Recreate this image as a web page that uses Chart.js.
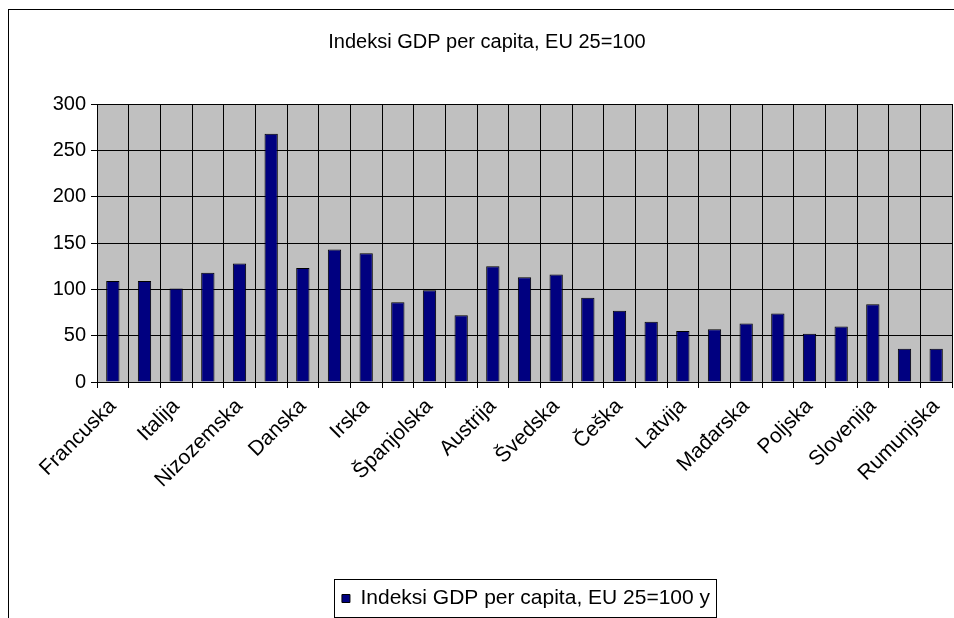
<!DOCTYPE html>
<html>
<head>
<meta charset="utf-8">
<script src="https://cdn.jsdelivr.net/npm/chart.js@4/dist/chart.umd.min.js"></script>
<style>
    html, body { margin: 0; padding: 0; background: #fff; }
    #wrap { width: 954px; height: 618px; }
</style>
</head>
<body>
<div id="wrap"><canvas id="chart" width="954" height="618"></canvas></div>
<script>
// zemlje (svaka druga je prikazana na osi)
const countries = ["Francuska", "Njemačka", "Italija", "Belgija", "Nizozemska", "Luksemburg",
    "Danska", "Velika Britanija", "Irska", "Grčka", "Španjolska", "Portugal", "Austrija",
    "Finska", "Švedska", "Cipar", "Češka", "Estonija", "Latvija", "Litva", "Mađarska",
    "Malta", "Poljska", "Slovačka", "Slovenija", "Bugarska", "Rumunjska"];
const gdpIndex = [109, 109, 101, 118, 128, 268, 123, 143, 139, 86, 99, 72, 125,
    113, 116, 91, 77, 65, 55, 57, 63, 74, 52, 60, 84, 36, 36];
const yTicks = [0, 50, 100, 150, 200, 250, 300];
const seriesName = "Indeksi GDP per capita, EU 25=100 y";
const titleText = "Indeksi GDP per capita, EU 25=100";

const font = "'Liberation Sans', Arial, sans-serif";

// okvir, sivo polje i rub oko legende
const decor = {
    id: "decor",
    afterUpdate(chart) {
        // u originalu su naslov i legenda malo desno od sredine
        const lg = chart.legend;
        lg.left += 50;
        lg.right += 50;
        lg.top += 2;
        lg.bottom += 2;
        lg.legendHitBoxes.forEach(b => { b.left += 50; b.top += 2; });
        const tb = chart.titleBlock;
        tb.left += 11;
        tb.right += 11;
    },
    beforeDraw(chart) {
        const ctx = chart.ctx;
        const a = chart.chartArea;
        ctx.save();
        ctx.fillStyle = "#fff";
        ctx.fillRect(0, 0, chart.width, chart.height);
        ctx.strokeStyle = "#000";
        ctx.lineWidth = 1;
        ctx.strokeRect(8.5, 9.5, 1000, 700);
        ctx.fillStyle = "#c0c0c0";
        ctx.fillRect(a.left, a.top, a.right - a.left, a.bottom - a.top);
        ctx.restore();
    },
    afterDraw(chart) {
        const box = chart.legend.legendHitBoxes[0];
        if (!box) return;
        const ctx = chart.ctx;
        ctx.save();
        ctx.strokeStyle = "#000";
        ctx.lineWidth = 1;
        ctx.strokeRect(Math.round(box.left - 8) + 0.5, Math.round(box.top - 9) + 0.5,
            Math.round(box.width + 14), Math.round(box.height + 17));
        ctx.restore();
    }
};

new Chart(document.getElementById("chart"), {
    type: "bar",
    data: {
        labels: countries,
        datasets: [{
            label: seriesName,
            data: gdpIndex,
            backgroundColor: "#000080",
            borderColor: "#000",
            borderWidth: 1,
            barPercentage: 0.42,
            categoryPercentage: 1
        }]
    },
    options: {
        responsive: false,
        animation: false,
        layout: { padding: { left: 0, right: 2, top: 0, bottom: 1 } },
        plugins: {
            title: {
                display: true,
                text: titleText,
                color: "#000",
                font: { family: font, size: 20, weight: "normal" },
                padding: { top: 30, bottom: 50 }
            },
            legend: {
                position: "bottom",
                labels: {
                    color: "#000",
                    font: { family: font, size: 21 },
                    boxWidth: 8,
                    boxHeight: 8,
                    padding: 10
                }
            },
            tooltip: { enabled: false }
        },
        scales: {
            x: {
                grid: { color: "#000", lineWidth: 1, tickLength: 6, offset: true },
                border: { color: "#000" },
                ticks: {
                    color: "#000",
                    font: { family: font, size: 21 },
                    autoSkip: false,
                    maxRotation: 45,
                    minRotation: 45,
                    padding: 6,
                    callback: (v, i) => i % 2 === 0 ? countries[i] : ""
                },
                afterFit: s => {
                    s.height = 194;
                    s.paddingRight = 0;
                }
            },
            y: {
                min: 0,
                max: 300,
                afterBuildTicks: s => { s.ticks = yTicks.map(v => ({ value: v })); },
                grid: { color: "#000", lineWidth: 1, tickLength: 6 },
                border: { color: "#000" },
                ticks: {
                    color: "#000",
                    font: { family: font, size: 20 },
                    padding: 5
                },
                afterFit: s => { s.width = 97; }
            }
        }
    },
    plugins: [decor]
});
</script>
</body>
</html>
